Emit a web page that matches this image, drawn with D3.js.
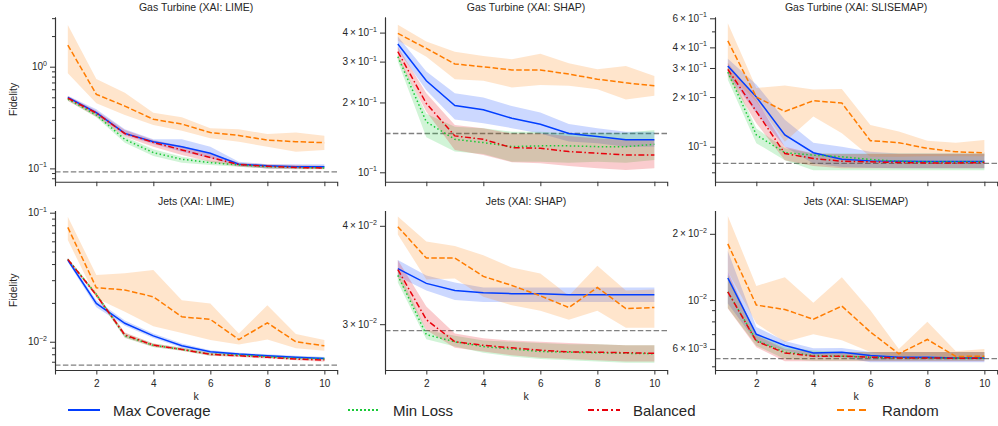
<!DOCTYPE html>
<html><head><meta charset="utf-8">
<script src="https://cdn.jsdelivr.net/npm/d3@7"></script>
<style>
body{margin:0;background:#fff;}
svg{display:block;font-family:"Liberation Sans",Arial,Helvetica,sans-serif;}
</style></head><body>
<svg id="chart" width="998" height="426"></svg>
<script>
// ---------------- DATA ----------------
const K = [1, 2, 3, 4, 5, 6, 7, 8, 9, 10];
const xTickValues = [2, 4, 6, 8, 10];
const seriesNames = ["Max Coverage", "Min Loss", "Balanced", "Random"];
const panelTitles = ["Gas Turbine (XAI: LIME)", "Gas Turbine (XAI: SHAP)", "Gas Turbine (XAI: SLISEMAP)",
                     "Jets (XAI: LIME)", "Jets (XAI: SHAP)", "Jets (XAI: SLISEMAP)"];
const yLimits = [[0.074, 3.08], [0.0911, 0.467], [0.0614, 0.611], [0.00604, 0.104], [0.02624, 0.04183], [0.00481, 0.02553]];
const refLevels = [0.0926, 0.147, 0.0793, 0.00659, 0.02944, 0.00542];
const labeledMinorMantissas = [[], [2, 3, 4], [2, 3, 4, 6], [], [3, 4], [2, 6]];

// Gas Turbine – LIME
const gtLimeMax   = [0.5, 0.353, 0.221, 0.183, 0.163, 0.141, 0.110, 0.106, 0.104, 0.104];
const gtLimeMaxLo = [0.48, 0.335, 0.212, 0.174, 0.146, 0.126, 0.1056, 0.1, 0.1, 0.1];
const gtLimeMaxHi = [0.519, 0.381, 0.242, 0.193, 0.193, 0.163, 0.1165, 0.11, 0.11, 0.11];
const gtLimeMin   = [0.48, 0.335, 0.193, 0.143, 0.123, 0.114, 0.108, 0.104, 0.102, 0.101];
const gtLimeMinLo = [0.4634, 0.3178, 0.179, 0.1324, 0.1138, 0.108, 0.104, 0.1, 0.0987, 0.0987];
const gtLimeMinHi = [0.4997, 0.3479, 0.205, 0.154, 0.1304, 0.119, 0.1122, 0.108, 0.1052, 0.1052];
const gtLimeBal   = [0.49, 0.35, 0.22, 0.18, 0.152, 0.128, 0.109, 0.105, 0.102, 0.101];
const gtLimeBalLo = [0.4634, 0.3227, 0.205, 0.1635, 0.1354, 0.1165, 0.104, 0.1, 0.098, 0.098];
const gtLimeBalHi = [0.515, 0.3697, 0.2385, 0.1902, 0.166, 0.1406, 0.1138, 0.1096, 0.108, 0.1064];
const gtLimeRnd   = [1.63, 0.535, 0.41, 0.304, 0.273, 0.225, 0.211, 0.19, 0.183, 0.179];
const gtLimeRndLo = [0.86, 0.436, 0.335, 0.267, 0.235, 0.198, 0.183, 0.163, 0.146, 0.152];
const gtLimeRndHi = [2.57, 0.757, 0.555, 0.353, 0.318, 0.248, 0.242, 0.218, 0.225, 0.21];

// Gas Turbine – SHAP
const gtShapMax   = [0.357, 0.248, 0.194, 0.186, 0.171, 0.161, 0.147, 0.1425, 0.138, 0.138];
const gtShapMaxLo = [0.337, 0.226, 0.169, 0.1626, 0.155, 0.147, 0.1356, 0.1334, 0.129, 0.129];
const gtShapMaxHi = [0.385, 0.272, 0.219, 0.21, 0.193, 0.181, 0.1615, 0.155, 0.1496, 0.1496];
const gtShapMin   = [0.315, 0.165, 0.1387, 0.1343, 0.129, 0.13, 0.13, 0.129, 0.129, 0.132];
const gtShapMinLo = [0.3, 0.1415, 0.1228, 0.12, 0.111, 0.111, 0.11, 0.111, 0.11, 0.113];
const gtShapMinHi = [0.322, 0.179, 0.157, 0.155, 0.1497, 0.1497, 0.147, 0.148, 0.148, 0.152];
const gtShapBal   = [0.331, 0.198, 0.1435, 0.1387, 0.1277, 0.127, 0.1228, 0.1208, 0.1188, 0.1188];
const gtShapBalLo = [0.31, 0.1825, 0.1248, 0.1188, 0.1104, 0.1093, 0.1065, 0.104, 0.1023, 0.104];
const gtShapBalHi = [0.348, 0.219, 0.16, 0.155, 0.147, 0.147, 0.1435, 0.14, 0.138, 0.1387];
const gtShapRnd   = [0.397, 0.342, 0.293, 0.285, 0.276, 0.276, 0.265, 0.252, 0.243, 0.236];
const gtShapRndLo = [0.37, 0.315, 0.252, 0.248, 0.232, 0.238, 0.236, 0.228, 0.206, 0.214];
const gtShapRndHi = [0.432, 0.366, 0.331, 0.317, 0.307, 0.324, 0.295, 0.278, 0.287, 0.26];

// Gas Turbine – SLISEMAP
const gtSliMax   = [0.308, 0.2, 0.118, 0.092, 0.0841, 0.0821, 0.0817, 0.0813, 0.0813, 0.0813];
const gtSliMaxLo = [0.274, 0.16, 0.1, 0.0791, 0.0755, 0.0745, 0.074, 0.074, 0.074, 0.074];
const gtSliMaxHi = [0.341, 0.238, 0.1455, 0.1058, 0.1, 0.0932, 0.091, 0.091, 0.091, 0.091];
const gtSliMin   = [0.283, 0.118, 0.092, 0.089, 0.0869, 0.0837, 0.0817, 0.081, 0.081, 0.081];
const gtSliMinLo = [0.255, 0.105, 0.0829, 0.072, 0.072, 0.072, 0.072, 0.072, 0.072, 0.072];
const gtSliMinHi = [0.308, 0.129, 0.098, 0.091, 0.091, 0.091, 0.091, 0.091, 0.091, 0.091];
const gtSliBal   = [0.294, 0.1636, 0.091, 0.0849, 0.0817, 0.081, 0.0802, 0.0798, 0.0798, 0.0802];
const gtSliBalLo = [0.268, 0.139, 0.0829, 0.0765, 0.074, 0.074, 0.074, 0.074, 0.074, 0.074];
const gtSliBalHi = [0.323, 0.193, 0.1, 0.091, 0.0905, 0.0905, 0.0905, 0.0905, 0.0905, 0.0905];
const gtSliRnd   = [0.438, 0.2, 0.1636, 0.19, 0.184, 0.1088, 0.1058, 0.0977, 0.0932, 0.0919];
const gtSliRndLo = [0.28, 0.188, 0.1073, 0.1524, 0.1206, 0.0869, 0.0869, 0.0877, 0.0877, 0.0877];
const gtSliRndHi = [0.56, 0.227, 0.235, 0.222, 0.224, 0.1356, 0.1235, 0.1088, 0.1058, 0.11];

// Jets – LIME
const jtLimeMax   = [0.043, 0.0198, 0.0139, 0.0111, 0.0093, 0.00837, 0.00802, 0.00779, 0.00757, 0.00743];
const jtLimeMaxLo = [0.0415, 0.0185, 0.0133, 0.0107, 0.0090, 0.00815, 0.00785, 0.00765, 0.00745, 0.0073];
const jtLimeMaxHi = [0.0445, 0.021, 0.0146, 0.0116, 0.0097, 0.0086, 0.0082, 0.008, 0.0078, 0.0076];
const jtLimeMin   = [0.0435, 0.02328, 0.01113, 0.00937, 0.00872, 0.00802, 0.00788, 0.00765, 0.00743, 0.00734];
const jtLimeMinLo = [0.0425, 0.0226, 0.0107, 0.0091, 0.0085, 0.0078, 0.0077, 0.0075, 0.0073, 0.0072];
const jtLimeMinHi = [0.0445, 0.024, 0.0117, 0.0097, 0.009, 0.0082, 0.0081, 0.0079, 0.0077, 0.0076];
const jtLimeBal   = [0.0435, 0.023, 0.0113, 0.00942, 0.00872, 0.00798, 0.00779, 0.00757, 0.00734, 0.00721];
const jtLimeBalLo = [0.0425, 0.0222, 0.0108, 0.0091, 0.0085, 0.0078, 0.0076, 0.0074, 0.0072, 0.007];
const jtLimeBalHi = [0.0445, 0.0238, 0.0118, 0.0097, 0.009, 0.0082, 0.008, 0.0078, 0.0076, 0.0074];
const jtLimeRnd   = [0.0769, 0.0262, 0.0252, 0.0223, 0.0156, 0.0149, 0.0104, 0.014, 0.01, 0.0093];
const jtLimeRndLo = [0.0614, 0.0217, 0.0171, 0.0132, 0.0117, 0.0103, 0.0095, 0.0104, 0.0089, 0.0085];
const jtLimeRndHi = [0.093, 0.0329, 0.0339, 0.0359, 0.021, 0.0198, 0.0116, 0.0192, 0.0115, 0.0103];

// Jets – SHAP
const jtShapMax   = [0.0353, 0.0338, 0.0331, 0.0329, 0.0328, 0.0328, 0.0327, 0.0327, 0.0327, 0.0327];
const jtShapMaxLo = [0.0345, 0.0331, 0.0322, 0.032, 0.032, 0.032, 0.032, 0.032, 0.032, 0.032];
const jtShapMaxHi = [0.0362, 0.0346, 0.0339, 0.0334, 0.0334, 0.0334, 0.0334, 0.0334, 0.0334, 0.0334];
const jtShapMin   = [0.0346, 0.0291, 0.0285, 0.0281, 0.0279, 0.0277, 0.02764, 0.0276, 0.02755, 0.02752];
const jtShapMinLo = [0.0339, 0.0287, 0.0281, 0.0276, 0.0273, 0.0271, 0.027, 0.0269, 0.0268, 0.0268];
const jtShapMinHi = [0.0352, 0.0295, 0.029, 0.0286, 0.0285, 0.0284, 0.0283, 0.0283, 0.0282, 0.0282];
const jtShapBal   = [0.0352, 0.0304, 0.0285, 0.0282, 0.028, 0.0278, 0.02767, 0.02764, 0.0276, 0.02755];
const jtShapBalLo = [0.0344, 0.0295, 0.028, 0.0277, 0.0274, 0.0272, 0.0271, 0.027, 0.0269, 0.0269];
const jtShapBalHi = [0.0362, 0.0316, 0.0292, 0.0288, 0.0286, 0.0285, 0.0284, 0.0283, 0.0282, 0.0282];
const jtShapRnd   = [0.0399, 0.0364, 0.0364, 0.0345, 0.0336, 0.0326, 0.0315, 0.0334, 0.0314, 0.0315];
const jtShapRndLo = [0.039, 0.0342, 0.0343, 0.0325, 0.0317, 0.0312, 0.0304, 0.0312, 0.0297, 0.0297];
const jtShapRndHi = [0.0411, 0.0382, 0.0377, 0.0367, 0.0354, 0.0348, 0.0326, 0.0356, 0.0331, 0.0332];

// Jets – SLISEMAP
const jtSliMax   = [0.0126, 0.00699, 0.00622, 0.00575, 0.00579, 0.0056, 0.0055, 0.0055, 0.00546, 0.00546];
const jtSliMaxLo = [0.00965, 0.00644, 0.0059, 0.0055, 0.0055, 0.00522, 0.00522, 0.00522, 0.00522, 0.00522];
const jtSliMaxHi = [0.0167, 0.00755, 0.00651, 0.00604, 0.00606, 0.0058, 0.0058, 0.0058, 0.0058, 0.0058];
const jtSliMin   = [0.0109, 0.00656, 0.0058, 0.0056, 0.00556, 0.0055, 0.00546, 0.00546, 0.00544, 0.00544];
const jtSliMinLo = [0.0092, 0.0062, 0.0054, 0.0053, 0.0053, 0.0053, 0.0053, 0.0053, 0.0053, 0.0053];
const jtSliMinHi = [0.013, 0.007, 0.0061, 0.0059, 0.0058, 0.0058, 0.0058, 0.0058, 0.0058, 0.0058];
const jtSliBal   = [0.0109, 0.0065, 0.00575, 0.00556, 0.00556, 0.0055, 0.00546, 0.00546, 0.00544, 0.00544];
const jtSliBalLo = [0.00916, 0.00611, 0.00527, 0.00527, 0.00527, 0.00527, 0.00527, 0.00527, 0.00527, 0.00527];
const jtSliBalHi = [0.0135, 0.00691, 0.006, 0.0058, 0.0058, 0.0058, 0.0058, 0.0058, 0.0058, 0.0058];
const jtSliRnd   = [0.018, 0.00949, 0.00906, 0.00818, 0.00939, 0.00716, 0.0057, 0.00662, 0.00554, 0.00556];
const jtSliRndLo = [0.0135, 0.00782, 0.00644, 0.00699, 0.00656, 0.0058, 0.0055, 0.0056, 0.0054, 0.0054];
const jtSliRndHi = [0.0241, 0.0116, 0.0127, 0.00972, 0.0127, 0.009, 0.006, 0.00796, 0.00586, 0.006];

// ---------------- STYLE / LAYOUT ----------------
const colors = ["#023eff", "#1ac938", "#e8000b", "#ff7c00"];
const dashes = [null, "1.5,2.5", "6,2.5,1.5,2.5", "5.5,2.4"];
const legendDashes = [null, "2,2", "6,3,2,3", "7,4"];
const colLeft = [55, 385, 715];
const panelW = 282.2;
const rowTop = [17, 210.5];
const rowBottom = [181.7, 370];
const xDomain = [0.55, 10.45];
const textColor = "#262626";

const panelData = [
  [[gtLimeMax, gtLimeMaxLo, gtLimeMaxHi], [gtLimeMin, gtLimeMinLo, gtLimeMinHi], [gtLimeBal, gtLimeBalLo, gtLimeBalHi], [gtLimeRnd, gtLimeRndLo, gtLimeRndHi]],
  [[gtShapMax, gtShapMaxLo, gtShapMaxHi], [gtShapMin, gtShapMinLo, gtShapMinHi], [gtShapBal, gtShapBalLo, gtShapBalHi], [gtShapRnd, gtShapRndLo, gtShapRndHi]],
  [[gtSliMax, gtSliMaxLo, gtSliMaxHi], [gtSliMin, gtSliMinLo, gtSliMinHi], [gtSliBal, gtSliBalLo, gtSliBalHi], [gtSliRnd, gtSliRndLo, gtSliRndHi]],
  [[jtLimeMax, jtLimeMaxLo, jtLimeMaxHi], [jtLimeMin, jtLimeMinLo, jtLimeMinHi], [jtLimeBal, jtLimeBalLo, jtLimeBalHi], [jtLimeRnd, jtLimeRndLo, jtLimeRndHi]],
  [[jtShapMax, jtShapMaxLo, jtShapMaxHi], [jtShapMin, jtShapMinLo, jtShapMinHi], [jtShapBal, jtShapBalLo, jtShapBalHi], [jtShapRnd, jtShapRndLo, jtShapRndHi]],
  [[jtSliMax, jtSliMaxLo, jtSliMaxHi], [jtSliMin, jtSliMinLo, jtSliMinHi], [jtSliBal, jtSliBalLo, jtSliBalHi], [jtSliRnd, jtSliRndLo, jtSliRndHi]]
];

const svg = d3.select("#chart");

function logTicks(dom) {
  const out = [];
  const e0 = Math.floor(Math.log10(dom[0])), e1 = Math.ceil(Math.log10(dom[1]));
  for (let e = e0; e <= e1; e++) {
    for (let m = 1; m <= 9; m++) {
      const v = m * Math.pow(10, e);
      if (v >= dom[0] && v <= dom[1]) out.push({ v, m, e });
    }
  }
  return out;
}

panelData.forEach((series, pi) => {
  const row = Math.floor(pi / 3), col = pi % 3;
  const x0 = colLeft[col], top = rowTop[row], bottom = rowBottom[row];
  const x = d3.scaleLinear().domain(xDomain).range([x0, x0 + panelW]);
  const y = d3.scaleLog().domain(yLimits[pi]).range([bottom, top]);
  const g = svg.append("g");

  // reference line
  g.append("line")
    .attr("x1", x(xDomain[0])).attr("x2", x(xDomain[1]))
    .attr("y1", y(refLevels[pi])).attr("y2", y(refLevels[pi]))
    .attr("stroke", "#808080").attr("stroke-width", 1.3).attr("stroke-dasharray", "5.5,2.4");

  // bands
  series.forEach((s, si) => {
    const pts = K.map((k, i) => ({ k, lo: s[1][i], hi: s[2][i] }));
    g.append("path").datum(pts)
      .attr("d", d3.area().x(d => x(d.k)).y0(d => y(d.lo)).y1(d => y(d.hi)))
      .attr("fill", colors[si]).attr("fill-opacity", 0.2).attr("stroke", "none");
  });
  // mean lines
  series.forEach((s, si) => {
    const pts = K.map((k, i) => ({ k, v: s[0][i] }));
    g.append("path").datum(pts)
      .attr("d", d3.line().x(d => x(d.k)).y(d => y(d.v)))
      .attr("fill", "none").attr("stroke", colors[si]).attr("stroke-width", 1.5)
      .attr("stroke-dasharray", dashes[si]);
  });

  // x axis
  const xAxis = d3.axisBottom(x).tickValues(xTickValues).tickSizeOuter(0).tickSize(4.5)
    .tickFormat(row === 1 ? d3.format("d") : "");
  const gx = g.append("g").attr("transform", `translate(0,${bottom})`).call(xAxis);
  gx.select(".domain").attr("stroke", "#333").attr("stroke-width", 1.1);
  gx.selectAll(".tick line").attr("stroke", "#333").attr("stroke-width", 1);
  gx.selectAll(".tick text").attr("fill", textColor).attr("font-size", 10)
    .attr("font-family", "'Liberation Sans', Arial, sans-serif").attr("dy", "0.9em");

  // y axis
  const ticks = logTicks(yLimits[pi]);
  const isLabeled = t => t.m === 1 || labeledMinorMantissas[pi].includes(t.m);
  const labeled = ticks.filter(isLabeled);
  const unlabeled = ticks.filter(t => !isLabeled(t));
  const yMinor = d3.axisLeft(y).tickValues(unlabeled.map(t => t.v)).tickSize(3).tickSizeOuter(0).tickFormat("");
  const yMajor = d3.axisLeft(y).tickValues(labeled.map(t => t.v)).tickSize(5).tickSizeOuter(0).tickFormat("");
  const gy1 = g.append("g").attr("transform", `translate(${x0},0)`).call(yMinor);
  const gy2 = g.append("g").attr("transform", `translate(${x0},0)`).call(yMajor);
  [gy1, gy2].forEach(a => {
    a.select(".domain").attr("stroke", "#333").attr("stroke-width", 1.1);
    a.selectAll(".tick line").attr("stroke", "#333").attr("stroke-width", 1);
  });
  labeled.forEach(t => {
    const txt = g.append("text")
      .attr("x", x0 - 8).attr("y", y(t.v) + 3.6)
      .attr("text-anchor", "end").attr("font-size", 10).attr("fill", textColor);
    txt.append("tspan").text(t.m === 1 ? "10" : `${t.m}\u2009\u00d7\u200910`);
    txt.append("tspan").attr("dy", -4.5).attr("font-size", 7)
      .text(t.e < 0 ? `\u2212${-t.e}` : `${t.e}`);
  });

  // title
  g.append("text").attr("x", x0 + panelW / 2).attr("y", top - 6)
    .attr("text-anchor", "middle").attr("font-size", 10.5).attr("fill", textColor)
    .text(panelTitles[pi]);

  if (col === 0) {
    g.append("text")
      .attr("transform", `translate(17,${(top + bottom) / 2}) rotate(-90)`)
      .attr("text-anchor", "middle").attr("font-size", 10.5).attr("fill", textColor)
      .text("Fidelity");
  }
  if (row === 1) {
    g.append("text").attr("x", x(5.5)).attr("y", 399.5)
      .attr("text-anchor", "middle").attr("font-size", 10.5).attr("fill", textColor)
      .text("k");
  }
});

// legend
const legendX = [68, 348, 588, 837];
const legendY = 410;
seriesNames.forEach((name, i) => {
  const lg = svg.append("g");
  lg.append("line").attr("x1", legendX[i]).attr("x2", legendX[i] + 32)
    .attr("y1", legendY).attr("y2", legendY)
    .attr("stroke", colors[i]).attr("stroke-width", 2)
    .attr("stroke-dasharray", legendDashes[i]);
  lg.append("text").attr("x", legendX[i] + 45).attr("y", legendY + 5.5)
    .attr("font-size", 15).attr("fill", textColor).text(name);
});
</script>
</body></html>
